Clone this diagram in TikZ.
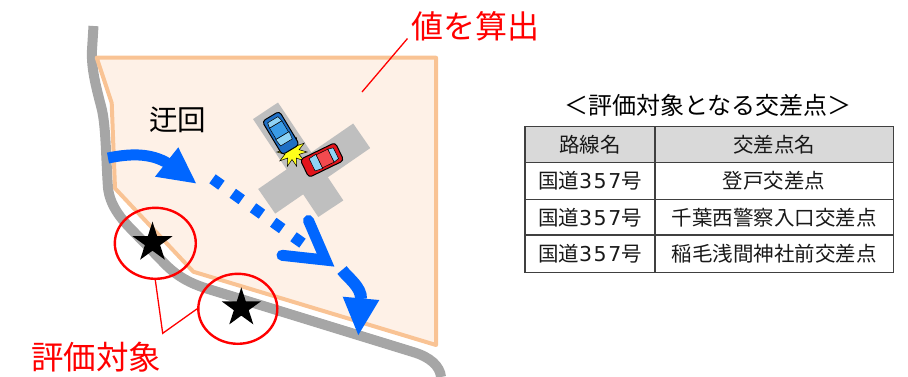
\documentclass[tikz,border=0pt]{standalone}
\usepackage{fontspec}
\setmainfont{Noto Sans CJK JP}
\newfontfamily\digitfont{DejaVu Sans}
\newcommand\routeno{国道{\digitfont 3\kern1.6pt 5\kern1.6pt 7}号}
\usetikzlibrary{shapes.geometric}

\definecolor{areafill}{HTML}{FEF1E7}
\definecolor{areaedge}{HTML}{F9C394}
\definecolor{roadgray}{HTML}{A6A6A6}
\definecolor{crossgray}{HTML}{BFBFBF}
\definecolor{flowblue}{HTML}{0066FF}
\definecolor{markred}{HTML}{FF0000}
\definecolor{headgray}{HTML}{D9D9D9}
\definecolor{rulegray}{HTML}{404040}
\definecolor{bluebody}{HTML}{1F6FC5}
\definecolor{blueroof}{HTML}{3A9BE6}
\definecolor{glass}{HTML}{8FD3F5}
\definecolor{redbody}{HTML}{E3141B}
\definecolor{redroof}{HTML}{F24A4F}
\definecolor{burst}{HTML}{FFFF1A}

\tikzset{
  lbl/.style={inner sep=0pt, anchor=base},
  redlbl/.style={lbl, text=markred},
  cell/.style={inner sep=0pt, anchor=base, font=\fontsize{20.5}{24}\selectfont, text=black!90},
  flow/.style={flowblue, line width=11pt},
  ring/.style={ellipse, draw=markred, line width=2.4pt, inner sep=0pt},
  leader/.style={markred, line width=1.3pt},
  % small top-view car, front pointing along local +x
  pics/car/.style n args={2}{code={
    \filldraw[fill=#1, draw=black, line width=1pt, rounded corners=3.5pt] (-19.5,-10) rectangle (19.5,10);
    \filldraw[fill=glass, draw=black, line width=0.5pt] (3,-7.8) -- (11,-6.8) -- (11,6.8) -- (3,7.8) -- cycle;
    \filldraw[fill=#2, draw=black, line width=0.5pt] (-10,-7.2) rectangle (3,7.2);
    \filldraw[fill=glass, draw=black, line width=0.5pt] (-15.5,-6) -- (-10,-7.2) -- (-10,7.2) -- (-15.5,6) -- cycle;
  }}
}

\begin{document}
\begin{tikzpicture}[x=1pt, y=-1pt]
\useasboundingbox (0,0) rectangle (908,376);

% road along the coast
\draw[roadgray, line width=10pt]
  (93.5,26) -- (92,50) .. controls (91,70) and (97,90) .. (102,110)
  .. controls (106,128) and (106,160) .. (108,188)
  .. controls (110,205) and (120,218) .. (133,231) -- (165,264)
  .. controls (178,277) and (190,283) .. (205,288) -- (413,352)
  .. controls (430,357) and (440,366) .. (441,377);

% evaluated area
\filldraw[fill=areafill, draw=areaedge, line width=4pt, line join=round]
  (96.7,57.7) -- (436,57.7) -- (436,345) -- (193.3,271.7) -- (115,188.3) -- (111.7,103) -- cycle;

% intersection
\fill[crossgray] (253,119.1) -- (278,102.5) -- (343.3,200.4) -- (318.3,217) -- cycle;
\fill[crossgray] (258.2,189) -- (275.2,213.6) -- (370.2,148.1) -- (353.2,123.5) -- cycle;

% collision
\filldraw[fill=burst, draw=black, line width=0.5pt, shift={(292,152)}]
  (0:15) \foreach \k in {1,...,19} { -- ({\k*18}:{ifthenelse(isodd(\k),7.5,15)}) } -- cycle;
\pic[rotate=-59] (bluecar) at (280.8,133) {car={bluebody}{blueroof}};
\pic[rotate=205.9] (redcar) at (322,160) {car={redbody}{redroof}};

% detour flow
\coordinate (a1s) at (108,158);
\coordinate (a1e) at (169,164);
\draw[flow] (a1s) .. controls (128,154) and (150,152) .. (a1e);
\fill[flowblue] (178.3,147.3) -- (196,183.3) -- (155,176.7) -- cycle;

\coordinate (dotS) at (212.5,178.8);
\coordinate (dotE) at (302.5,243.2);
\draw[flowblue, line width=11pt, dash pattern=on 11pt off 13.9pt] (dotS) -- (dotE);
\coordinate (vA) at (308.5,220.5);
\coordinate (vTip) at (325.6,260.1);
\coordinate (vB) at (282,255.3);
\draw[flow, line cap=round, line join=miter] (vA) -- (vTip) -- (vB);

\coordinate (a3s) at (342,270);
\coordinate (a3e) at (361,299);
\draw[flowblue, line width=12pt] (a3s) .. controls (348,278) and (361.5,287) .. (a3e);
\fill[flowblue] (342.7,296.7) -- (379.3,300) -- (358.3,335) -- cycle;

% evaluation points
\node[ring, minimum width=81pt, minimum height=71pt] (e1) at (155.3,243.3) {};
\node[ring, minimum width=79pt, minimum height=70pt] (e2) at (237.8,308.8) {};
\fill[shift={(152.5,242.7)}]
  (270:21) \foreach \k in {1,...,9} { -- ({270+\k*36}:{ifthenelse(isodd(\k),8,21)}) } -- cycle;
\fill[shift={(241.3,307.8)}]
  (270:20.5) \foreach \k in {1,...,9} { -- ({270+\k*36}:{ifthenelse(isodd(\k),7.8,20.5)}) } -- cycle;

% labels
\node[redlbl, font=\fontsize{32}{36}\selectfont] (calc) at (475.5,38.2) {値を算出};
\coordinate (calcPt) at (407.5,38.5);
\coordinate (areaPt) at (362,92);
\draw[leader] (calcPt) -- (areaPt);

\node[lbl, font=\fontsize{28.5}{32}\selectfont] (detour) at (177.5,130.8) {迂回};

\node[redlbl, font=\fontsize{32.5}{36}\selectfont] (target) at (96.3,369.7) {評価対象};
\coordinate (fork) at (162.7,333.3);
\draw[leader] (e1.south) -- (fork) -- (e2.west);

% table of intersections
\node[lbl, font=\fontsize{24}{28}\selectfont] (title) at (708,114.1) {＜評価対象となる交差点＞};
\fill[headgray] (525,126.7) rectangle (893.3,162.7);
\draw[rulegray, line width=1.1pt] (525,126.7) rectangle (893.3,272.7);
\draw[rulegray, line width=1.1pt] (525,162.7) -- (893.3,162.7)
  (525,199.3) -- (893.3,199.3) (525,235) -- (893.3,235) (655,126.7) -- (655,272.7);

\node[cell] (h1) at (590,152.5) {路線名};
\node[cell] (h2) at (774.2,152.5) {交差点名};
\node[cell] (r1a) at (590,188.8) {\routeno};
\node[cell] (r1b) at (774.2,188.8) {登戸交差点};
\node[cell] (r2a) at (590,225) {\routeno};
\node[cell] (r2b) at (774.2,225) {千葉西警察入口交差点};
\node[cell] (r3a) at (590,261.7) {\routeno};
\node[cell] (r3b) at (774.2,261.7) {稲毛浅間神社前交差点};
\end{tikzpicture}
\end{document}
